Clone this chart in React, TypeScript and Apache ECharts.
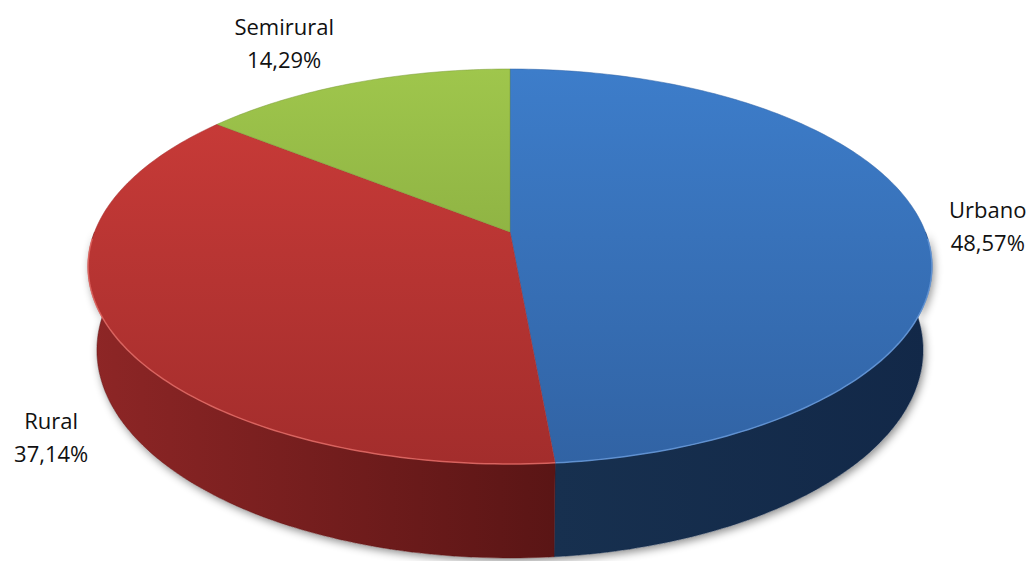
import React, { useEffect, useRef } from 'react';
import * as echarts from 'echarts';

// ---- data ----
const CATEGORIES = ['Urbano', 'Rural', 'Semirural'];
const VALUES = [48.57, 37.14, 14.29];

// ---- styles ----
const TOP_COLORS = [
  ['#3d7dca', '#3163a4'],
  ['#cc3c39', '#a32d2c'],
  ['#9fc64c', '#7a9b38'],
];
const SIDE_COLORS = [
  ['#17304f', '#122848'],
  ['#8e2626', '#5a1515'],
  ['#6e8f2c', '#55701f'],
];
const EDGE_COLORS = ['rgba(110,160,225,0.75)', 'rgba(235,115,110,0.75)', 'rgba(190,220,120,0.75)'];
const LABEL_OFFSETS = [
  [66, 2],
  [-60, 106],
  [-70, -40],
];

// ---- projection (perspective 3D pie) ----
const CX = 510;
const CY = 232;
const F = 2111;
const R = 0.1968;
const H = 0.045;
const SIN_E = 0.4609;
const COS_E = 0.8875;

function proj(phiDeg: number, bottom: boolean, rad = R): number[] {
  const p = (phiDeg * Math.PI) / 180;
  const X = rad * Math.sin(p);
  const Zd = rad * Math.cos(p);
  const Y = bottom ? -H : 0;
  const yc = Y * COS_E + Zd * SIN_E;
  const zc = 1 + Zd * COS_E - Y * SIN_E;
  return [CX + (F * X) / zc, CY - (F * yc) / zc];
}

function arc(a: number, b: number, bottom: boolean): number[][] {
  const n = Math.max(2, Math.ceil(Math.abs(b - a) / 1));
  const pts: number[][] = [];
  for (let i = 0; i <= n; i++) pts.push(proj(a + ((b - a) * i) / n, bottom));
  return pts;
}

const TOTAL = VALUES.reduce((s, v) => s + v, 0);
const STARTS: number[] = [];
{
  let acc = 0;
  for (const v of VALUES) {
    STARTS.push((acc / TOTAL) * 360);
    acc += v;
  }
}

function fmt(v: number) {
  return v.toFixed(2).replace('.', ',') + '%';
}

export default function App() {
  const ref = useRef<HTMLDivElement>(null);
  useEffect(() => {
    document.body.style.margin = '0';
    const chart = echarts.init(ref.current!, null, { renderer: 'svg' });
    const topY = proj(0, false)[1];
    const botY = proj(180, false)[1];

    const wallRender = (params: any, api: any) => {
      const i = params.dataIndex;
      const a = STARTS[i];
      const b = a + (api.value(0) / TOTAL) * 360;
      const children: any[] = [];
      if (i === 0) {
        const base = arc(90, 270, false).concat(arc(270, 90, true));
        children.push({
          type: 'polygon',
          z2: -1,
          shape: { points: base },
          style: {
            fill: '#ffffff',
            shadowBlur: 8,
            shadowOffsetY: 3,
            shadowOffsetX: 2,
            shadowColor: 'rgba(0,0,0,0.45)',
          },
        });
      }
      const wa = Math.max(a, 90);
      const wb = Math.min(b, 270);
      if (wb > wa) {
        const topArc = arc(wa, wb, false);
        const botArc = arc(wb, wa, true);
        const xs = topArc.concat(botArc).map((p) => p[0]);
        const minX = Math.min(...xs);
        const maxX = Math.max(...xs);
        children.push({
          type: 'polygon',
          z2: 1,
          shape: { points: topArc.concat(botArc) },
          style: {
            fill: {
              type: 'linear',
              x: minX,
              y: 0,
              x2: maxX,
              y2: 0,
              global: true,
              colorStops: [
                { offset: 0, color: SIDE_COLORS[i][0] },
                { offset: 1, color: SIDE_COLORS[i][1] },
              ],
            },
            stroke: SIDE_COLORS[i][1],
            lineWidth: 0.5,
          },
        });
      }
      return { type: 'group', children };
    };

    const topRender = (params: any, api: any) => {
      const i = params.dataIndex;
      const a = STARTS[i];
      const b = a + (api.value(0) / TOTAL) * 360;
      const pts = [[CX, CY]].concat(arc(a, b, false));
      const children: any[] = [
        {
          type: 'polygon',
          shape: { points: pts },
          style: {
            fill: {
              type: 'linear',
              x: 0,
              y: topY,
              x2: 0,
              y2: botY,
              global: true,
              colorStops: [
                { offset: 0, color: TOP_COLORS[i][0] },
                { offset: 1, color: TOP_COLORS[i][1] },
              ],
            },
            stroke: TOP_COLORS[i][1],
            lineWidth: 0.5,
          },
        },
      ];
      const wa = Math.max(a, 92);
      const wb = Math.min(b, 268);
      if (wb > wa) {
        children.push({
          type: 'polyline',
          shape: { points: arc(wa, wb, false) },
          style: { stroke: EDGE_COLORS[i], lineWidth: 1.5, fill: null },
        });
      }
      const mid = (a + b) / 2;
      const anchor = proj(mid, false);
      children.push({
        type: 'text',
        style: {
          text: CATEGORIES[i] + '\n' + fmt(api.value(0)),
          x: anchor[0] + LABEL_OFFSETS[i][0],
          y: anchor[1] + LABEL_OFFSETS[i][1],
          align: 'center',
          verticalAlign: 'middle',
          fontSize: 22,
          fontFamily: '"Open Sans", sans-serif',
          lineHeight: 33,
          fill: '#111111',
        },
      });
      return { type: 'group', children };
    };

    const data = VALUES.map((v, i) => ({ name: CATEGORIES[i], value: v }));

    chart.setOption({
      animation: false,
      backgroundColor: '#ffffff',
      series: [
        {
          type: 'custom',
          coordinateSystem: 'none',
          z: 1,
          renderItem: wallRender,
          data,
          silent: true,
        },
        {
          type: 'custom',
          coordinateSystem: 'none',
          z: 2,
          renderItem: topRender,
          data,
          silent: true,
        },
      ],
    });
    return () => chart.dispose();
  }, []);
  return <div ref={ref} style={{ width: 1033, height: 561 }} />;
}
